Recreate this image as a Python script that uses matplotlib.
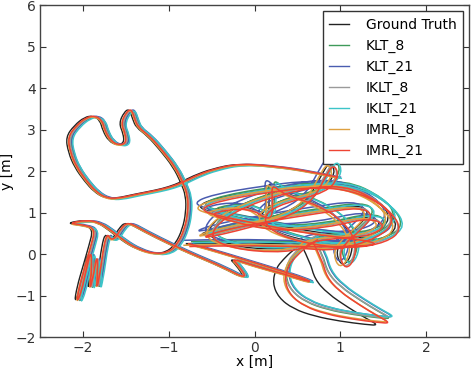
import matplotlib
matplotlib.use("Agg")
import matplotlib.pyplot as plt
from matplotlib.path import Path
from matplotlib.patches import PathPatch

# ---------------- data (metres) ----------------
series_names = ["Ground Truth", "KLT_8", "KLT_21", "IKLT_8", "IKLT_21", "IMRL_8", "IMRL_21"]

# Ground-truth trajectory (way-points), split into three stretches
gt_west_x = [0.95, 0.6, 0.2, -0.2, -0.5, -0.72, -0.86, -1.0, -1.15, -1.4, -1.62, -1.75, -1.87, -1.98,
             -2.1, -2.17, -2.2, -2.1, -1.98, -1.88, -1.8, -1.77, -1.7, -1.6, -1.52, -1.53, -1.58, -1.52,
             -1.46, -1.42, -1.38, -1.25, -1.1, -0.95, -0.86, -0.8, -0.8, -0.84, -0.92, -1.02, -1.18, -1.38,
             -1.55, -1.7, -1.83, -1.98, -2.2, -2.0, -1.88, -1.93, -2.0, -2.07, -2.1, -2.04, -1.99, -1.93,
             -1.92, -1.95, -1.9, -1.86, -1.85, -1.87, -1.82, -1.78, -1.74, -1.7, -1.64, -1.58, -1.5, -1.3,
             -1.0, -0.7, -0.4, -0.1, -0.22, -0.3, 0.0, 0.3, 0.66, 0.55, 0.2, -0.2, -0.6, -0.8]
gt_west_y = [1.85, 2.0, 2.12, 2.18, 2.05, 1.88, 1.73, 1.62, 1.54, 1.44, 1.34, 1.35, 1.5, 1.75,
             2.1, 2.45, 2.82, 3.1, 3.3, 3.33, 3.22, 2.98, 2.72, 2.62, 2.68, 2.9, 3.15, 3.42,
             3.5, 3.25, 3.05, 2.85, 2.5, 2.1, 1.73, 1.4, 1.0, 0.6, 0.25, 0.05, 0.0, 0.12,
             0.33, 0.58, 0.76, 0.82, 0.74, 0.7, 0.6, 0.2, -0.3, -0.8, -1.18, -0.9, -0.4, 0.1,
             -0.3, -0.9, -0.5, 0.0, -0.4, -0.92, -0.4, 0.2, 0.5, 0.34, 0.4, 0.62, 0.78, 0.55,
             0.24, -0.04, -0.3, -0.62, -0.25, -0.1, -0.3, -0.47, -0.7, -0.58, -0.35, -0.1, 0.15, 0.25]

gt_center_x = [-0.8, -0.2, 0.5, 1.1, 1.42, 1.2, 0.6, 0.0, -0.5, -0.68, -0.45, 0.1, 0.7, 1.2, 1.55,
               1.68, 1.5, 1.1, 0.6, 0.15, 0.05, 0.3, 0.8, 0.95, 0.88, 0.78, 0.65, 0.4, -0.1, -0.68,
               -0.5, 0.1, 0.7, 1.2, 1.35, 1.2, 1.0, 0.95, 1.02, 1.12, 1.15, 1.0, 0.7, 0.3, 0.15,
               0.18, 0.14, -0.1, -0.6, -0.3, 0.2, 0.8, 1.3, 1.5, 1.3, 0.9, 0.6, 0.55,
               0.2, -0.3, -0.6, -0.3, 0.4, 1.0, 1.45, 1.6, 1.4, 0.9, 0.55]
gt_center_y = [0.25, 0.28, 0.24, 0.25, 0.3, 0.42, 0.55, 0.8, 1.0, 1.15, 1.35, 1.55, 1.7, 1.55, 1.1,
               0.65, 0.35, 0.2, 0.3, 0.6, 1.0, 1.3, 1.55, 1.95, 2.25, 1.9, 1.4, 1.0, 0.7, 0.42,
               0.6, 0.85, 1.05, 1.2, 1.0, 0.65, 0.3, 0.0, -0.3, -0.1, 0.35, 0.85, 1.25, 1.5, 1.78,
               1.2, 0.85, 1.2, 1.05, 0.85, 0.62, 0.7, 0.95, 0.75, 0.5, 0.45, 0.35, 0.2,
               0.1, 0.2, 0.5, 1.1, 1.6, 1.75, 1.3, 0.85, 0.45, 0.15, 0.2]

gt_hook_x = [0.55, 0.65, 0.7, 0.85, 1.1, 1.3, 1.45, 1.3, 1.0, 0.7, 0.45, 0.28, 0.21, 0.25, 0.33, 0.45, 0.6]
gt_hook_y = [0.2, -0.2, -0.6, -0.95, -1.3, -1.55, -1.72, -1.7, -1.62, -1.5, -1.32, -1.05, -0.7, -0.35, -0.14, 0.1, 0.3]

# drift of each estimate relative to ground truth on each stretch (dx, dy)
west_dx = [0.0, 0.05, 0.06, 0.04, 0.07, 0.02, 0.025]
west_dy = [0.0, -0.02, 0.0, -0.01, -0.03, -0.02, 0.0]
center_dx = [0.0, 0.06, -0.04, 0.03, 0.08, -0.03, 0.04]
center_dy = [0.0, 0.05, 0.08, -0.04, 0.02, -0.04, -0.07]
hook_dx = [0.0, 0.15, 0.18, 0.14, 0.19, 0.12, 0.14]
hook_dy = [0.0, 0.16, 0.2, 0.18, 0.2, 0.08, 0.05]

# ---------------- styling ----------------
colors = ["#222222", "#3f9a5a", "#4a5cb0", "#9a9a9a", "#3cc4c8", "#dea040", "#ee4433"]
widths = [1.0, 1.1, 1.1, 1.1, 1.1, 1.1, 1.1]

plt.rcParams['font.family'] = ['DejaVu Sans']
fig = plt.figure(figsize=(4.74, 3.68), dpi=100)
ax = fig.add_axes([0.0844, 0.0842, 0.9051, 0.9022])


def smooth_path(xs, ys):
    """Way-points used as quadratic Bezier control points (drawn by matplotlib)."""
    pts = list(zip(xs, ys))
    verts = [pts[0]]
    codes = [Path.MOVETO]
    for i in range(1, len(pts) - 1):
        mid = ((pts[i][0] + pts[i + 1][0]) / 2, (pts[i][1] + pts[i + 1][1]) / 2)
        verts += [pts[i], mid]
        codes += [Path.CURVE3, Path.CURVE3]
    verts.append(pts[-1])
    codes.append(Path.LINETO)
    return Path(verts, codes)


stretches = [
    (gt_west_x, gt_west_y, west_dx, west_dy),
    (gt_center_x, gt_center_y, center_dx, center_dy),
    (gt_hook_x, gt_hook_y, hook_dx, hook_dy),
]
for i, name in enumerate(series_names):
    for (sx, sy, ddx, ddy) in stretches:
        xs = [v + ddx[i] for v in sx]
        ys = [v + ddy[i] for v in sy]
        ax.add_patch(PathPatch(smooth_path(xs, ys), facecolor='none', edgecolor=colors[i],
                               lw=widths[i], joinstyle='round', zorder=2 + i))
    ax.plot([], [], color=colors[i], lw=1.0, label=name)

ax.set_xlim(-2.5, 2.5)
ax.set_ylim(-2, 6)
ax.set_xticks([-2, -1, 0, 1, 2])
ax.set_yticks([-2, -1, 0, 1, 2, 3, 4, 5, 6])
ax.set_xticklabels(["\u22122", "\u22121", "0", "1", "2"])
ax.set_yticklabels(["\u22122", "\u22121", "0", "1", "2", "3", "4", "5", "6"])
ax.tick_params(direction='in', top=True, right=True, length=4, labelsize=10, colors='#333333',
               pad=3)
for s in ax.spines.values():
    s.set_color('#444444')
    s.set_linewidth(1.0)
ax.set_xlabel("x [m]", fontsize=10, labelpad=0)
ax.set_ylabel("y [m]", fontsize=10, labelpad=1)

leg = ax.legend(loc='upper right', fontsize=10, handlelength=1.45, handletextpad=1.2,
                labelspacing=0.5, borderpad=0.45, borderaxespad=0.45, fancybox=False,
                framealpha=1)
leg.get_frame().set_edgecolor('#333333')
leg.get_frame().set_linewidth(1.0)

fig.savefig("out.png", dpi=100)
